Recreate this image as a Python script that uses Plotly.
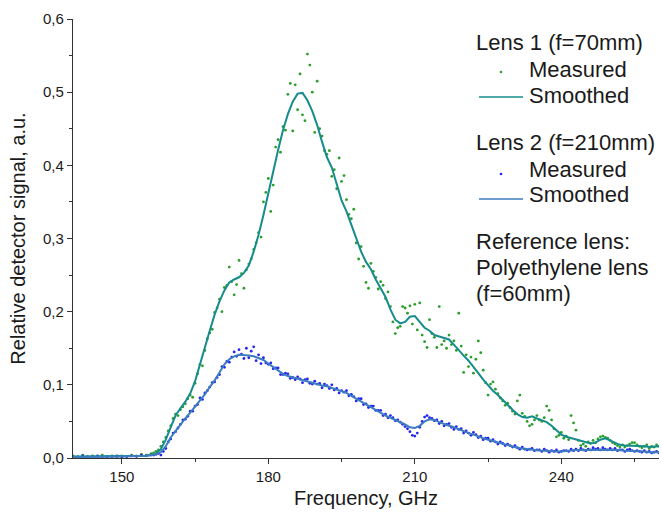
import numpy as np
import plotly.graph_objects as go

# ---------------- data ----------------
# Measured grid: 1 GHz steps on the flat part, then 0.5 GHz steps
meas_freq = list(range(140, 157)) + list(np.arange(156.5, 260.01, 0.5))

lens1_measured = [
    0.003, 0.002, 0.004, 0.001, 0.003, 0.002, 0.004, 0.002, 0.003, 0.001,
    0.003, 0.002, 0.004, 0.003, 0.005, 0.004, 0.006,
    0.007, 0.009, 0.011, 0.016, 0.022, 0.028, 0.037, 0.044,
    0.054, 0.060, 0.058, 0.066, 0.070, 0.074, 0.081, 0.086, 0.083, 0.102,
    0.115, 0.128, 0.126, 0.147, 0.163, 0.171, 0.176, 0.199, 0.205, 0.217,
    0.200, 0.233, 0.236, 0.261, 0.241, 0.223, 0.237, 0.270, 0.252, 0.232,
    0.257, 0.265, 0.272, 0.285, 0.294, 0.308, 0.302, 0.350, 0.363, 0.382,
    0.337, 0.373, 0.425, 0.435, 0.418, 0.453, 0.448, 0.497, 0.512, 0.447,
    0.510, 0.476, 0.525, 0.469, 0.461, 0.552, 0.537, 0.500, 0.445, 0.515,
    0.450, 0.440, 0.420, 0.415, 0.420, 0.385, 0.394, 0.368, 0.410, 0.378,
    0.386, 0.353, 0.333, 0.327, 0.340, 0.294, 0.272, 0.289, 0.262, 0.240,
    0.232, 0.266, 0.255, 0.247, 0.231, 0.241, 0.236, 0.218, 0.227, 0.207,
    0.186, 0.170, 0.178, 0.180, 0.207, 0.205, 0.198, 0.208, 0.183, 0.210,
    0.175, 0.212, 0.168, 0.159, 0.151, 0.189, 0.170, 0.165, 0.151, 0.207,
    0.155, 0.160, 0.150, 0.168, 0.155, 0.160, 0.147, 0.198, 0.153, 0.117,
    0.141, 0.125, 0.138, 0.116, 0.135, 0.160, 0.144, 0.120, 0.103, 0.086,
    0.101, 0.104, 0.094, 0.088, 0.082, 0.078, 0.072, 0.075, 0.069, 0.064,
    0.060, 0.078, 0.086, 0.061, 0.057, 0.050, 0.044, 0.046, 0.052, 0.058,
    0.052, 0.050, 0.055, 0.071, 0.065, 0.052, 0.040, 0.029, 0.031, 0.035,
    0.027, 0.030, 0.025, 0.058, 0.048, 0.038, 0.024, 0.017, 0.019, 0.016,
    0.022, 0.020, 0.024, 0.021, 0.026, 0.029, 0.030, 0.028, 0.027, 0.024,
    0.021, 0.019, 0.017, 0.015, 0.018, 0.015, 0.017, 0.019, 0.021, 0.021,
    0.018, 0.016, 0.014, 0.016, 0.018, 0.013, 0.016, 0.015, 0.018, 0.016,
]

lens2_measured = [
    0.002, 0.001, 0.003, 0.002, 0.001, 0.003, 0.002, 0.001, 0.002, 0.003,
    0.001, 0.002, 0.003, 0.002, 0.004, 0.003, 0.004,
    0.004, 0.005, 0.006, 0.004, 0.009, 0.013, 0.022, 0.026,
    0.034, 0.036, 0.041, 0.046, 0.052, 0.053, 0.057, 0.064, 0.064, 0.071,
    0.073, 0.082, 0.080, 0.089, 0.092, 0.097, 0.103, 0.104, 0.110, 0.114,
    0.125, 0.124, 0.132, 0.131, 0.138, 0.145, 0.139, 0.148, 0.142, 0.136,
    0.150, 0.137, 0.146, 0.152, 0.133, 0.141, 0.129, 0.137, 0.130, 0.128,
    0.130, 0.122, 0.123, 0.123, 0.114, 0.114, 0.116, 0.115, 0.109, 0.110,
    0.107, 0.111, 0.108, 0.103, 0.107, 0.108, 0.102, 0.101, 0.105, 0.101,
    0.102, 0.096, 0.101, 0.099, 0.095, 0.100, 0.093, 0.095, 0.089, 0.092,
    0.090, 0.092, 0.085, 0.087, 0.084, 0.078, 0.081, 0.081, 0.073, 0.074,
    0.069, 0.071, 0.071, 0.065, 0.065, 0.065, 0.058, 0.060, 0.055, 0.058,
    0.055, 0.051, 0.052, 0.049, 0.046, 0.043, 0.040, 0.036, 0.031, 0.030,
    0.034, 0.042, 0.050, 0.056, 0.058, 0.055, 0.054, 0.051, 0.052, 0.047,
    0.050, 0.044, 0.046, 0.047, 0.042, 0.039, 0.043, 0.039, 0.040, 0.034,
    0.037, 0.034, 0.031, 0.035, 0.032, 0.028, 0.030, 0.025, 0.027, 0.027,
    0.023, 0.025, 0.022, 0.019, 0.022, 0.020, 0.017, 0.019, 0.017, 0.015,
    0.017, 0.014, 0.012, 0.015, 0.012, 0.011, 0.012, 0.013, 0.010, 0.011,
    0.011, 0.009, 0.012, 0.010, 0.008, 0.010, 0.009, 0.011, 0.008, 0.009,
    0.010, 0.010, 0.009, 0.012, 0.010, 0.012, 0.010, 0.013, 0.011, 0.010,
    0.012, 0.011, 0.014, 0.012, 0.013, 0.011, 0.014, 0.012, 0.011, 0.013,
    0.011, 0.013, 0.010, 0.011, 0.011, 0.009, 0.011, 0.012, 0.010, 0.009,
    0.010, 0.009, 0.008, 0.010, 0.008, 0.009, 0.007, 0.008, 0.009, 0.007,
]

smooth_freq = [140, 145, 150] + list(range(155, 261))

lens1_smoothed = [
    0.002, 0.002, 0.002,
    0.003, 0.004, 0.006, 0.012, 0.025,
    0.042, 0.058, 0.068, 0.077, 0.088, 0.105, 0.128, 0.152, 0.174, 0.196,
    0.214, 0.229, 0.240, 0.244, 0.247, 0.253, 0.263, 0.282, 0.305, 0.332,
    0.362, 0.394, 0.421, 0.448, 0.470, 0.487, 0.498, 0.499, 0.489, 0.474,
    0.455, 0.432, 0.411, 0.397, 0.375, 0.352, 0.337, 0.318, 0.298, 0.282,
    0.268, 0.258, 0.244, 0.231, 0.220, 0.203, 0.189, 0.184, 0.186, 0.193,
    0.194, 0.186, 0.178, 0.174, 0.168, 0.166, 0.164, 0.162, 0.155, 0.147,
    0.140, 0.133, 0.125, 0.116, 0.107, 0.099, 0.092, 0.086, 0.079, 0.072,
    0.066, 0.060, 0.056, 0.055, 0.057, 0.054, 0.051, 0.049, 0.044, 0.038,
    0.032, 0.029, 0.027, 0.025, 0.023, 0.021, 0.020, 0.021, 0.025, 0.027,
    0.024, 0.020, 0.018, 0.017, 0.017, 0.016, 0.016, 0.016, 0.015, 0.016, 0.016,
]

lens2_smoothed = [
    0.001, 0.001, 0.002,
    0.003, 0.004, 0.005, 0.008, 0.016,
    0.028, 0.037, 0.046, 0.054, 0.062, 0.070, 0.078, 0.087, 0.097, 0.106,
    0.117, 0.128, 0.135, 0.139, 0.141, 0.141, 0.140, 0.139, 0.137, 0.134,
    0.129, 0.124, 0.119, 0.115, 0.112, 0.110, 0.108, 0.106, 0.104, 0.103,
    0.101, 0.099, 0.098, 0.096, 0.093, 0.091, 0.089, 0.085, 0.081, 0.077,
    0.073, 0.069, 0.066, 0.062, 0.058, 0.055, 0.052, 0.050, 0.046, 0.042,
    0.041, 0.044, 0.050, 0.053, 0.052, 0.049, 0.046, 0.044, 0.042, 0.039,
    0.036, 0.034, 0.032, 0.029, 0.027, 0.025, 0.023, 0.021, 0.019, 0.017,
    0.016, 0.014, 0.013, 0.012, 0.011, 0.011, 0.010, 0.010, 0.009, 0.009,
    0.009, 0.010, 0.010, 0.011, 0.011, 0.011, 0.012, 0.012, 0.012, 0.012,
    0.012, 0.011, 0.011, 0.010, 0.010, 0.010, 0.009, 0.009, 0.008, 0.008, 0.008,
]

group1_title = "Lens 1 (f=70mm)"
group2_title = "Lens 2 (f=210mm)"
item_measured = "Measured"
item_smoothed = "Smoothed"
reference_note = ["Reference lens:", "Polyethylene lens", "(f=60mm)"]

assert len(meas_freq) == len(lens1_measured) == len(lens2_measured), (
    len(meas_freq), len(lens1_measured), len(lens2_measured))
assert len(smooth_freq) == len(lens1_smoothed) == len(lens2_smoothed), (
    len(smooth_freq), len(lens1_smoothed), len(lens2_smoothed))

# ---------------- style / layout ----------------
W, H = 661, 517
ML, MR, MT, MB = 73, 2, 19, 59
PW, PH = W - ML - MR, H - MT - MB

FONT = "Liberation Sans, Arial, sans-serif"
TXT = "#1a1a1a"
C_G_DOT = "#2a9e2a"
C_G_LINE = "#168c8c"
C_B_DOT = "#2424f0"
C_B_LINE = "#3c7cbf"
LEG_FS = 22


def px(xp):
    return (xp - ML) / PW


def py(yp):
    return 1 - (yp - MT) / PH


fig = go.Figure()
fig.add_trace(go.Scatter(
    x=meas_freq, y=lens1_measured, mode="markers", name="Lens 1 measured",
    marker=dict(size=2.8, color=C_G_DOT, line=dict(width=0)), showlegend=False,
))
fig.add_trace(go.Scatter(
    x=meas_freq, y=lens2_measured, mode="markers", name="Lens 2 measured",
    marker=dict(size=2.8, color=C_B_DOT, line=dict(width=0)), showlegend=False,
))
fig.add_trace(go.Scatter(
    x=smooth_freq, y=lens1_smoothed, mode="lines", name="Lens 1 smoothed",
    line=dict(color=C_G_LINE, width=2), showlegend=False,
))
fig.add_trace(go.Scatter(
    x=smooth_freq, y=lens2_smoothed, mode="lines", name="Lens 2 smoothed",
    line=dict(color=C_B_LINE, width=2), showlegend=False,
))

# ---- hand-made legend (text lines + symbol samples) ----
annotations = []
shapes = []


def add_text(text, x_pix, y_center_pix):
    annotations.append(dict(
        text=text, xref="paper", yref="paper", x=px(x_pix), y=py(y_center_pix),
        xanchor="left", yanchor="middle", showarrow=False, borderpad=0,
        font=dict(size=LEG_FS, color=TXT, family=FONT),
    ))


def add_dot(x_pix, y_pix, color):
    r = 1.3
    shapes.append(dict(
        type="circle", xref="paper", yref="paper",
        x0=px(x_pix - r), x1=px(x_pix + r), y0=py(y_pix + r), y1=py(y_pix - r),
        fillcolor=color, line=dict(width=0),
    ))


def add_line(x0_pix, x1_pix, y_pix, color):
    shapes.append(dict(
        type="line", xref="paper", yref="paper",
        x0=px(x0_pix), x1=px(x1_pix), y0=py(y_pix), y1=py(y_pix),
        line=dict(color=color, width=1.6),
    ))


add_text(group1_title, 475, 43)
add_dot(501, 72, C_G_DOT)
add_text(item_measured, 528, 69)
add_line(479, 523, 97, C_G_LINE)
add_text(item_smoothed, 528, 95)

add_text(group2_title, 475, 143)
add_dot(501, 174, C_B_DOT)
add_text(item_measured, 528, 169)
add_line(479, 523, 199, C_B_LINE)
add_text(item_smoothed, 528, 194.5)

for i, line in enumerate(reference_note):
    add_text(line, 475, 241.5 + 26 * i)

fig.update_layout(
    width=W, height=H,
    margin=dict(l=ML, r=MR, t=MT, b=MB),
    paper_bgcolor="white", plot_bgcolor="white",
    separators=", ",
    font=dict(family=FONT, color=TXT, size=15),
    showlegend=False,
    annotations=annotations,
    shapes=shapes,
)

fig.update_xaxes(
    range=[140, 260], dtick=30, tick0=150,
    showline=True, linecolor="#333", linewidth=1.2,
    ticks="outside", ticklen=5, tickwidth=1.2, tickcolor="#333",
    minor=dict(dtick=15, tick0=150, ticks="outside", ticklen=3, tickcolor="#333", tickwidth=1.2),
    showgrid=False, zeroline=False,
    tickfont=dict(size=15, color=TXT),
    title=dict(text="Frequency, GHz", font=dict(size=20, color=TXT), standoff=6),
)
fig.update_yaxes(
    range=[0, 0.6], dtick=0.1, tickformat=".1f",
    showline=True, linecolor="#333", linewidth=1.2,
    ticks="outside", ticklen=5, tickwidth=1.2, tickcolor="#333",
    minor=dict(dtick=0.05, ticks="outside", ticklen=3, tickcolor="#333", tickwidth=1.2),
    showgrid=False, zeroline=False,
    tickfont=dict(size=15, color=TXT),
    title=dict(text="Relative detector signal, a.u.", font=dict(size=20, color=TXT), standoff=12),
)

fig.write_html(
    "out.html",
    config={"displayModeBar": False},
    post_script="document.body.style.margin='0px';",
)
